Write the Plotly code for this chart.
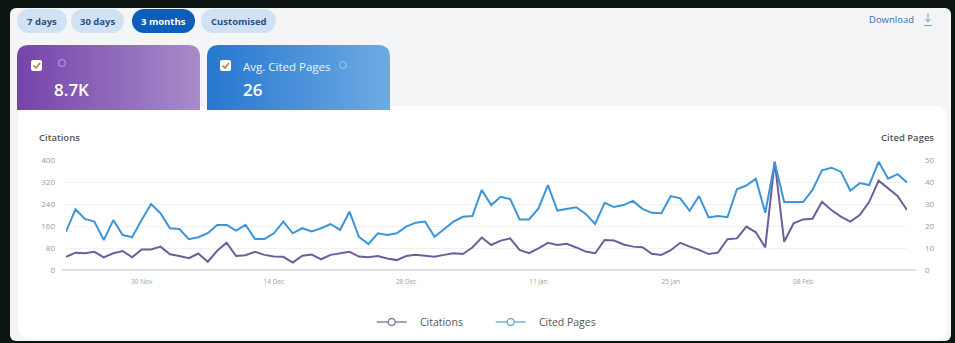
import base64
import pandas as pd
import plotly.graph_objects as go

# ---- data -------------------------------------------------------------
dates = pd.date_range("2024-11-22", "2025-02-19", freq="D")

citations = [
    48, 63, 61, 66, 46, 61, 69, 46, 75, 75,
    85, 57, 51, 43, 60, 30, 70, 99, 51, 54,
    66, 55, 49, 48, 27, 52, 56, 39, 55, 60,
    66, 49, 46, 51, 42, 36, 51, 55, 51, 48,
    55, 61, 58, 82, 118, 91, 107, 115, 73, 61,
    79, 99, 91, 95, 82, 67, 61, 109, 107, 93,
    85, 83, 59, 55, 72, 99, 85, 73, 58, 63,
    112, 115, 158, 137, 82, 394, 103, 170, 184, 186,
    248, 218, 194, 176, 200, 248, 325, 297, 269, 218,
]

cited_pages = [
    17.4, 27.6, 23.2, 22.0, 13.6, 22.7, 15.9, 14.9, 22.7, 30.0,
    25.8, 19.0, 18.6, 14.0, 14.9, 16.7, 20.5, 20.5, 17.9, 20.5,
    14.1, 14.1, 16.7, 22.0, 16.7, 19.0, 17.5, 19.0, 20.9, 18.2,
    26.5, 15.1, 11.8, 16.7, 15.9, 16.7, 19.7, 21.5, 22.0, 15.1,
    18.5, 22.0, 24.2, 24.5, 36.4, 29.5, 33.3, 32.3, 23.0, 23.0,
    28.0, 38.6, 27.0, 27.6, 28.5, 25.5, 20.9, 30.5, 28.6, 29.5,
    31.4, 27.8, 26.0, 25.8, 33.6, 32.6, 26.9, 33.6, 23.9, 24.5,
    24.0, 36.7, 38.4, 41.5, 26.0, 49.0, 30.9, 30.9, 30.9, 36.4,
    45.3, 46.5, 44.7, 36.0, 39.5, 38.6, 49.2, 41.5, 43.6, 39.8,
]

x_tick_dates = ["2024-11-30", "2024-12-14", "2024-12-28",
                "2025-01-11", "2025-01-25", "2025-02-08"]
x_tick_labels = ["30 Nov", "14 Dec", "28 Dec", "11 Jan", "25 Jan", "08 Feb"]
left_ticks = [0, 80, 160, 240, 320, 400]
right_ticks = [0, 10, 20, 30, 40, 50]
range_buttons = ["7 days", "30 days", "3 months", "Customised"]
active_range = "3 months"

# summary numbers shown on the metric cards
total_citations = f"{sum(citations) / 1000:.1f}K"
avg_cited_pages = f"{round(sum(cited_pages) / len(cited_pages))}"

# ---- geometry (pixels) ------------------------------------------------
FIG_W, FIG_H = 955, 343
PL, PR, PT, PB = 66, 907, 160, 270

def fx(x):
    return (x - PL) / (PR - PL)

def fy(y):
    return (PB - y) / (PB - PT)

PURPLE = "#6f5c9b"
BLUE = "#3b95d8"
FONT = "Open Sans"

# ---- page chrome drawn as an svg backdrop -----------------------------
def top_round(x0, y0, x1, y1, r, fill):
    return (f'<path d="M{x0},{y1} L{x0},{y0 + r} Q{x0},{y0} {x0 + r},{y0} '
            f'L{x1 - r},{y0} Q{x1},{y0} {x1},{y0 + r} L{x1},{y1} Z" fill="{fill}"/>')

pill_spans = [(17, 67), (71, 124), (132, 195), (201, 276)]
pills = ""
for (a, b), name in zip(pill_spans, range_buttons):
    fill = "#0b5fb9" if name == active_range else "#d0e2f3"
    pills += f'<rect x="{a}" y="9" width="{b - a}" height="24" rx="12" fill="{fill}"/>'

def checkbox(x, y):
    return (f'<rect x="{x}" y="{y}" width="11" height="11" rx="2" fill="#ffffff"/>'
            f'<path d="M{x + 2.5},{y + 5.5} L{x + 5},{y + 8} L{x + 9},{y + 3}" '
            f'fill="none" stroke="#c27b3b" stroke-width="1.6"/>')

svg = f'''<svg xmlns="http://www.w3.org/2000/svg" width="{FIG_W}" height="{FIG_H}" viewBox="0 0 {FIG_W} {FIG_H}">
<defs>
<linearGradient id="gp" x1="0" y1="0" x2="1" y2="0"><stop offset="0" stop-color="#7444ab"/><stop offset="1" stop-color="#a98bc9"/></linearGradient>
<linearGradient id="gb" x1="0" y1="0" x2="1" y2="0"><stop offset="0" stop-color="#2677cf"/><stop offset="1" stop-color="#6eabe4"/></linearGradient>
</defs>
<rect width="{FIG_W}" height="{FIG_H}" fill="#0c1411"/>
<rect x="10" y="8" width="941" height="333" rx="6" fill="#f3f5f7"/>
<rect x="18" y="106" width="929" height="233" rx="10" fill="#ffffff"/>
{top_round(17, 45, 200, 110, 12, "url(#gp)")}
{top_round(207, 45, 390, 110, 12, "url(#gb)")}
{checkbox(31, 60)}
{checkbox(220, 60)}
<circle cx="62" cy="63" r="3.5" fill="none" stroke="rgba(255,255,255,0.45)" stroke-width="1"/>
<circle cx="343" cy="65" r="3.5" fill="none" stroke="rgba(255,255,255,0.45)" stroke-width="1"/>
{pills}
<g stroke="#7a9fd0" stroke-width="1" fill="none">
<line x1="928" y1="13" x2="928" y2="22"/>
<polyline points="925,19 928,22 931,19"/>
<line x1="924" y1="25.5" x2="932" y2="25.5"/>
</g>
</svg>'''
svg_uri = "data:image/svg+xml;base64," + base64.b64encode(svg.encode()).decode()

# ---- figure -----------------------------------------------------------
fig = go.Figure()

fig.add_trace(go.Scatter(
    x=dates, y=citations, name="Citations", mode="lines",
    line=dict(color=PURPLE, width=2), showlegend=False, yaxis="y",
))
fig.add_trace(go.Scatter(
    x=dates, y=cited_pages, name="Cited Pages", mode="lines",
    line=dict(color=BLUE, width=2), showlegend=False, yaxis="y2",
))

# legend entries (line with a ringed marker); nbsp pads the label off the symbol
PAD = "\u00a0\u00a0\u00a0"
for name, col in [("Citations", "#8e7cb6"), ("Cited Pages", "#74b0e2")]:
    fig.add_trace(go.Scatter(
        x=[None], y=[None], name=PAD + name, mode="lines+markers",
        line=dict(color=col, width=1.5),
        marker=dict(symbol="circle", size=7, color="#ffffff",
                    line=dict(color=col, width=1.5)),
    ))

annotations = []
for (a, b), name in zip(pill_spans, range_buttons):
    annotations.append(dict(
        x=fx((a + b) / 2), y=fy(21.5), text=name, showarrow=False,
        xanchor="center", yanchor="middle",
        font=dict(family=FONT, size=9.5, weight=700,
                  color="#ffffff" if name == active_range else "#2c4f84"),
    ))
annotations += [
    dict(x=fx(891), y=fy(19), text="Download", showarrow=False,
         xanchor="center", yanchor="middle",
         font=dict(family=FONT, size=9.5, color="#3d6db2")),
    dict(x=fx(52), y=fy(89), text=total_citations, showarrow=False,
         xanchor="left", yanchor="middle",
         font=dict(family=FONT, size=17, weight=600, color="#ffffff")),
    dict(x=fx(241), y=fy(66), text="Avg. Cited Pages", showarrow=False,
         xanchor="left", yanchor="middle",
         font=dict(family=FONT, size=11.5, color="#eaf3fc")),
    dict(x=fx(241), y=fy(89), text=avg_cited_pages, showarrow=False,
         xanchor="left", yanchor="middle",
         font=dict(family=FONT, size=17, weight=600, color="#ffffff")),
    dict(x=fx(37), y=fy(137), text="Citations", showarrow=False,
         xanchor="left", yanchor="middle",
         font=dict(family=FONT, size=9.5, weight=600, color="#555555")),
    dict(x=fx(936), y=fy(137), text="Cited Pages", showarrow=False,
         xanchor="right", yanchor="middle",
         font=dict(family=FONT, size=9.5, weight=600, color="#555555")),
]
for a in annotations:
    a.update(xref="paper", yref="paper")

fig.update_layout(
    width=FIG_W, height=FIG_H,
    margin=dict(l=PL, r=FIG_W - PR, t=PT, b=FIG_H - PB, autoexpand=False),
    paper_bgcolor="#0c1411",
    plot_bgcolor="rgba(0,0,0,0)",
    font=dict(family=FONT),
    images=[dict(
        source=svg_uri, xref="paper", yref="paper",
        x=fx(0), y=fy(0), sizex=FIG_W / (PR - PL), sizey=FIG_H / (PB - PT),
        xanchor="left", yanchor="top", sizing="stretch", layer="below",
    )],
    shapes=[dict(
        type="line", xref="paper", yref="paper",
        x0=fx(62), x1=fx(916), y0=0, y1=0,
        line=dict(color="#d4d4d4", width=1.5), layer="below",
    )],
    annotations=annotations,
    xaxis=dict(
        range=[dates[0], dates[-1]], tickvals=x_tick_dates, ticktext=x_tick_labels,
        showgrid=False, zeroline=False, showline=False, ticks="",
        tickfont=dict(size=6.5, color="#a0a0a0"), ticklabelstandoff=6,
    ),
    yaxis=dict(
        range=[0, 400], tickvals=left_ticks, showgrid=True,
        gridcolor="#f1f1f1", gridwidth=1, zeroline=False, ticks="",
        tickfont=dict(size=8, color="#9a9a9a"), ticklabelstandoff=10,
    ),
    yaxis2=dict(
        range=[0, 50], tickvals=right_ticks, overlaying="y", side="right",
        showgrid=False, zeroline=False, ticks="",
        tickfont=dict(size=8, color="#9a9a9a"), ticklabelstandoff=17,
    ),
    legend=dict(
        orientation="h", x=0.505, xanchor="center", y=fy(322), yanchor="middle",
        font=dict(size=10.5, color="#555555"), bgcolor="rgba(0,0,0,0)",
        itemwidth=30, entrywidth=74, entrywidthmode="pixels",
    ),
)

fig.write_html("out.html")
